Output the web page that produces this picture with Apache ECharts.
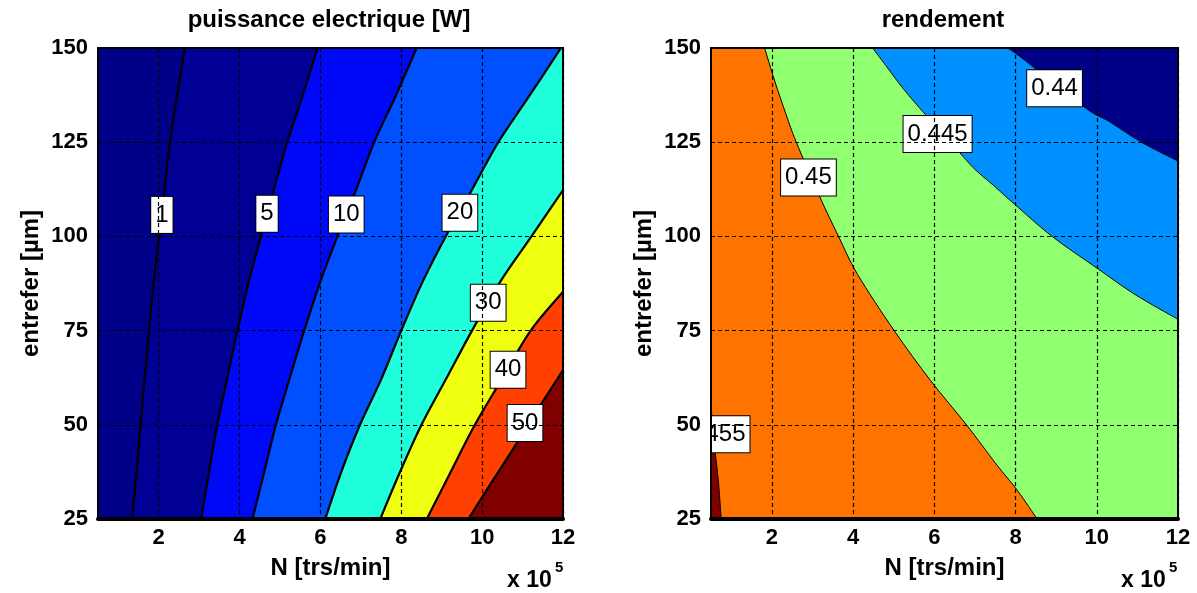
<!DOCTYPE html>
<html><head><meta charset="utf-8">
<script src="https://cdn.jsdelivr.net/npm/echarts@6/dist/echarts.min.js"></script>
<style>html,body{margin:0;padding:0;background:#fff}#c{width:1197px;height:593px}</style>
</head><body><div id="c"></div>
<script>
// ---- axes ----
const xRange = [0.5, 12];
const yRange = [25, 150];
const xTicks = [2, 4, 6, 8, 10, 12];
const yInterval = 25;

// ---- left plot: puissance electrique [W] ----
const powerLevels = [1, 5, 10, 20, 30, 40, 50];
const powerColors = ['#000088', '#000094', '#0008F8', '#0050FF', '#20FFDC', '#F0FF10', '#FF4000', '#800000'];
const power1  = [[1.34,25],[1.45,37],[1.55,50],[1.65,62],[1.76,75],[1.88,88],[2.01,100],[2.14,112],[2.28,125],[2.45,137],[2.65,150]];
const power5  = [[3.05,25],[3.24,37],[3.45,50],[3.69,62],[3.95,75],[4.23,88],[4.53,100],[4.84,112],[5.18,125],[5.55,137],[5.93,150]];
const power10 = [[4.32,25],[4.6,37],[4.9,50],[5.23,62],[5.6,75],[6.0,88],[6.42,100],[6.87,112],[7.33,125],[7.85,137],[8.38,150]];
const power20 = [[6.12,25],[6.5,37],[6.98,50],[7.5,62],[8.0,75],[8.53,88],[9.1,100],[9.73,112],[10.4,125],[11.15,137],[11.95,150]];
const power30 = [[7.48,25],[7.95,37],[8.5,50],[9.1,62],[9.75,75],[10.45,88],[11.22,100],[12,112.3]];
const power40 = [[8.63,25],[9.2,37],[9.82,50],[10.48,62],[11.2,75],[12,85.3]];
const power50 = [[9.66,25],[10.25,35],[10.85,45],[11.43,55],[12,64.5]];
const powerLabels = ['1', '5', '10', '20', '30', '40', '50'];
const powerLabelPos = [[2.08,105.7],[4.68,106],[6.64,105.8],[9.45,106.3],[10.15,82.4],[10.64,64.6],[11.06,50.5]];

// ---- right plot: rendement ----
const effLevels = [0.44, 0.445, 0.45, 0.455];
const effColors = ['#000086', '#0090FF', '#90FF70', '#FF7300', '#800000'];
const eff044  = [[7.79,150],[8.16,147.3],[9.72,134.1],[10.29,130.6],[11.1,125],[12,120]];
const eff0445 = [[4.48,150],[4.85,144.7],[5.22,139.4],[5.71,133.2],[6.61,122.4],[7.0,117.8],[7.45,113.6],[7.98,108.5],[8.9,100],[9.99,91.7],[10.94,84.6],[12,78]];
const eff045  = [[1.82,150],[2.07,141.2],[2.35,132.3],[2.6,125],[3.17,110.7],[3.64,100],[4.11,89.9],[5.01,75],[5.91,61.7],[6.79,50],[7.52,39.6],[8.05,32.5],[8.53,25]];
const eff0455 = [[0.5,58],[0.53,50],[0.6,43],[0.68,35],[0.73,28],[0.75,25]];
const effLabels = ['0.44', '0.445', '0.45', '0.455'];
const effLabelPos = [[8.96,139.3],[6.08,127.2],[2.9,115.6],[0.61,47.5]];

const FONT = 'Liberation Sans';

// perimeter parameter, clockwise from top-left corner
function perimT(p) {
  const W = xRange[1] - xRange[0], H = yRange[1] - yRange[0], e = 1e-6;
  const x = p[0], y = p[1];
  if (Math.abs(y - yRange[1]) < e) return (x - xRange[0]) / W;
  if (Math.abs(x - xRange[1]) < e) return 1 + (yRange[1] - y) / H;
  if (Math.abs(y - yRange[0]) < e) return 2 + (xRange[1] - x) / W;
  return 3 + (y - yRange[0]) / H;
}
const corners = [[xRange[0], yRange[1]], [xRange[1], yRange[1]], [xRange[1], yRange[0]], [xRange[0], yRange[0]]];
function closingCorners(line) {
  const tE = perimT(line[line.length - 1]);
  let tS = perimT(line[0]);
  if (tS <= tE) tS += 4;
  const pts = [];
  for (let k = 0; k < 8; k++) {
    if (k > tE && k < tS) pts.push(corners[k % 4]);
  }
  return pts;
}
// smooth (Catmull-Rom) path through pixel points
function smoothPath(px) {
  let d = 'M' + px[0][0] + ' ' + px[0][1];
  for (let i = 0; i < px.length - 1; i++) {
    const p0 = px[i - 1] || px[i], p1 = px[i], p2 = px[i + 1], p3 = px[i + 2] || px[i + 1];
    const c1x = p1[0] + (p2[0] - p0[0]) / 6, c1y = p1[1] + (p2[1] - p0[1]) / 6;
    const c2x = p2[0] - (p3[0] - p1[0]) / 6, c2y = p2[1] - (p3[1] - p1[1]) / 6;
    d += ' C' + c1x + ' ' + c1y + ' ' + c2x + ' ' + c2y + ' ' + p2[0] + ' ' + p2[1];
  }
  return d;
}

const plots = [
  { lines: [power1, power5, power10, power20, power30, power40, power50], colors: powerColors,
    labels: powerLabels, labelPos: powerLabelPos, lineWidth: 2.2 },
  { lines: [eff044, eff0445, eff045, eff0455], colors: effColors,
    labels: effLabels, labelPos: effLabelPos, lineWidth: 1 }
];

function makeSeries(p, gi) {
  const data = [[0, 0]];
  p.lines.forEach((l, i) => data.push([1, i]));
  p.lines.forEach((l, i) => data.push([2, i]));
  p.labels.forEach((l, i) => data.push([3, i]));
  return {
    type: 'custom', xAxisIndex: gi, yAxisIndex: gi, clip: true, silent: true, data: data,
    renderItem: function (params, api) {
      const kind = api.value(0), i = api.value(1);
      const toPx = pts => pts.map(pt => api.coord(pt));
      if (kind === 0) {
        return { type: 'polygon', shape: { points: toPx(corners) }, style: { fill: p.colors[0] } };
      }
      if (kind === 1) {
        let d = smoothPath(toPx(p.lines[i]));
        toPx(closingCorners(p.lines[i])).forEach(c => { d += ' L' + c[0] + ' ' + c[1]; });
        d += ' Z';
        return { type: 'path', shape: { pathData: d },
          style: { fill: p.colors[i + 1], stroke: p.colors[i + 1], lineWidth: 0.5 } };
      }
      if (kind === 2) {
        return { type: 'path', shape: { pathData: smoothPath(toPx(p.lines[i])) },
          style: { stroke: '#000', lineWidth: p.lineWidth, fill: 'none' } };
      }
      const c = api.coord(p.labelPos[i]);
      return { type: 'text', x: c[0], y: c[1],
        style: { text: p.labels[i], fontSize: 24, fontFamily: FONT, fill: '#000',
          align: 'center', verticalAlign: 'middle', backgroundColor: '#fff',
          borderColor: '#000', borderWidth: 1, padding: [6, 4] } };
    }
  };
}

function xAxisOf(gi) {
  return {
    gridIndex: gi, type: 'value', min: xRange[0], max: xRange[1], z: 5,
    axisLine: { show: true, onZero: false, lineStyle: { color: '#000', width: 4 } },
    axisTick: { show: false, customValues: xTicks },
    axisLabel: { customValues: xTicks, color: '#000', fontSize: 22, fontWeight: 'bold', fontFamily: FONT, margin: 8 },
    splitLine: { show: true, lineStyle: { color: '#000', type: [4, 3], width: 1.2 } },
    name: 'N [trs/min]', nameLocation: 'middle', nameGap: 37,
    nameTextStyle: { color: '#000', fontSize: 24, fontWeight: 'bold', fontFamily: FONT }
  };
}
function yAxisOf(gi) {
  return {
    gridIndex: gi, type: 'value', min: yRange[0], max: yRange[1], interval: yInterval, z: 5,
    axisLine: { show: true, lineStyle: { color: '#000', width: 2 } },
    axisTick: { show: false },
    axisLabel: { color: '#000', fontSize: 22, fontWeight: 'bold', fontFamily: FONT, margin: 10 },
    splitLine: { show: true, lineStyle: { color: '#000', type: [4, 3], width: 1.2 } },
    name: 'entrefer [µm]', nameLocation: 'middle', nameGap: 55, nameRotate: 90,
    nameTextStyle: { color: '#000', fontSize: 24, fontWeight: 'bold', fontFamily: FONT }
  };
}

const chart = echarts.init(document.getElementById('c'), null, { renderer: 'canvas' });
chart.setOption({
  animation: false,
  backgroundColor: '#fff',
  title: [
    { text: 'puissance electrique [W]', left: 329, top: 8, padding: 0, textAlign: 'center',
      textStyle: { fontSize: 24, fontWeight: 'bold', fontFamily: FONT, color: '#000' } },
    { text: 'rendement', left: 943, top: 8, padding: 0, textAlign: 'center',
      textStyle: { fontSize: 24, fontWeight: 'bold', fontFamily: FONT, color: '#000' } }
  ],
  grid: [
    { left: 98, right: 634, top: 48, bottom: 74, show: true, z: 10, backgroundColor: 'transparent', borderColor: '#000', borderWidth: 2 },
    { left: 711, right: 19, top: 48, bottom: 74, show: true, z: 10, backgroundColor: 'transparent', borderColor: '#000', borderWidth: 2 }
  ],
  xAxis: [xAxisOf(0), xAxisOf(1)],
  yAxis: [yAxisOf(0), yAxisOf(1)],
  graphic: [
    { type: 'text', left: 507, top: 569, style: { text: 'x 10', fontSize: 23, fontWeight: 'bold', fontFamily: FONT, fill: '#000' } },
    { type: 'text', left: 555, top: 560, style: { text: '5', fontSize: 15, fontWeight: 'bold', fontFamily: FONT, fill: '#000' } },
    { type: 'text', left: 1121, top: 569, style: { text: 'x 10', fontSize: 23, fontWeight: 'bold', fontFamily: FONT, fill: '#000' } },
    { type: 'text', left: 1169, top: 560, style: { text: '5', fontSize: 15, fontWeight: 'bold', fontFamily: FONT, fill: '#000' } }
  ],
  series: [makeSeries(plots[0], 0), makeSeries(plots[1], 1)]
});
</script>
</body></html>
